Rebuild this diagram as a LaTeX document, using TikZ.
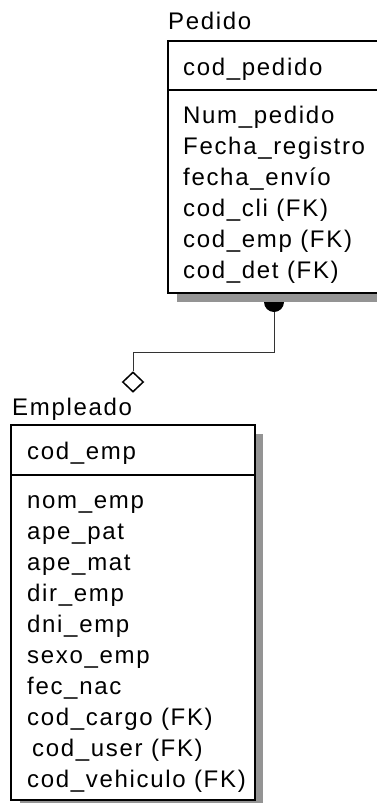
\documentclass[tikz,border=0pt]{standalone}
\usepackage{fontspec}
\setmainfont{Liberation Sans}[LetterSpace=7]
\usetikzlibrary{shapes.geometric}
\begin{document}
\begin{tikzpicture}[x=1pt, y=-1pt,
  every node/.style={font=\fontsize{24}{28}\selectfont, inner sep=0pt},
  entity/.style={draw, line width=1.6pt, fill=white, anchor=north west},
  shadow/.style={fill=black!42},
  attr/.style={anchor=base west},
  link/.style={line width=0.9pt, black!80}]
  \useasboundingbox (0,0) rectangle (377,803);
  % shadows first
  \fill[shadow] (177,50) rectangle (387,302);
  \fill[shadow] (20,434) rectangle (263,809);
  % Pedido
  \node[attr] (pedidotitle) at (168,29) {Pedido};
  \node[entity, minimum width=210pt, minimum height=252pt] (pedido) at (167,40) {};
  \draw[line width=1.6pt] (pedido.west |- 0,90) -- (pedido.east |- 0,90);
  \node[attr] (pedidokey) at (183,75) {cod\_pedido};
  \foreach \t [count=\i] in {Num\_pedido, Fecha\_registro, fecha\_envío,
      cod\_cli (FK), cod\_emp (FK), cod\_det (FK)}
    \node[attr] (pedido\i) at (183,92+31*\i) {\t};
  % Empleado
  \node[attr] (empleadotitle) at (12,415) {Empleado};
  \node[entity, minimum width=244pt, minimum height=375pt] (empleado) at (10,424) {};
  \draw[line width=1.6pt] (empleado.west |- 0,475) -- (empleado.east |- 0,475);
  \node[attr] (empleadokey) at (27,459) {cod\_emp};
  \foreach \t [count=\i] in {nom\_emp, ape\_pat, ape\_mat, dir\_emp, dni\_emp,
      sexo\_emp, fec\_nac, cod\_cargo (FK), {\hspace{5pt}cod\_user (FK)},
      cod\_vehiculo (FK)}
    \node[attr] (empleado\i) at (27,477+31*\i) {\t};
  % relationship
  \fill (264,302) arc[start angle=180, end angle=0, radius=10] -- cycle;
  \coordinate (fkdot) at (274,312);
  \coordinate (fkbend) at (274,352);
  \node[draw, diamond, line width=1.5pt, fill=white, minimum width=21pt,
    minimum height=20pt] (fkdiamond) at (133,382) {};
  \draw[link] (fkdot) -- (fkbend) -| (fkdiamond);
\end{tikzpicture}
\end{document}
